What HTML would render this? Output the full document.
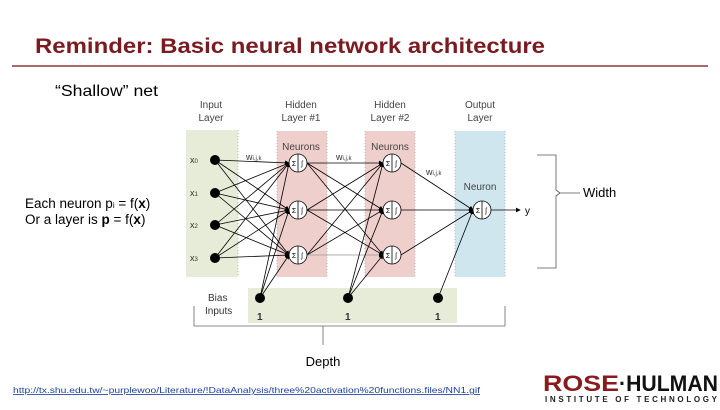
<!DOCTYPE html><html><head><style>body{margin:0;width:720px;height:405px;background:#fff;overflow:hidden}</style></head><body>
<svg width="720" height="405" xmlns="http://www.w3.org/2000/svg" font-family="Liberation Sans, Arial, sans-serif">
<defs><marker id="a" markerWidth="6" markerHeight="6" refX="5" refY="3" orient="auto"><path d="M0,0L6,3L0,6z" fill="#000"/></marker></defs>
<text x="35" y="53" font-size="21" font-weight="bold" fill="#7b1a1f" textLength="510" lengthAdjust="spacingAndGlyphs">Reminder: Basic neural network architecture</text>
<line x1="12" y1="66" x2="708" y2="66" stroke="#8b3a3a" stroke-width="1.5"/>
<text x="55" y="96" font-size="16" textLength="103" lengthAdjust="spacingAndGlyphs">“Shallow” net</text>
<g font-size="10" fill="#444" text-anchor="middle">
<text x="211" y="108">Input</text><text x="211" y="121">Layer</text>
<text x="301" y="108">Hidden</text><text x="301" y="121">Layer #1</text>
<text x="390" y="108">Hidden</text><text x="390" y="121">Layer #2</text>
<text x="480" y="108">Output</text><text x="480" y="121">Layer</text></g>
<rect x="186" y="130" width="52" height="147" fill="#e6ecd8"/>
<rect x="277" y="131" width="50" height="146" fill="#efcfcc"/>
<rect x="365" y="131" width="50" height="146" fill="#efcfcc"/>
<rect x="455" y="131" width="50" height="146" fill="#cfe6ef"/>
<rect x="248" y="288" width="209" height="35" fill="#e6ecd8"/>
<g stroke="#bbb" stroke-dasharray="1,2" fill="none"><line x1="238" y1="130" x2="238" y2="277"/><line x1="277" y1="131" x2="277" y2="277"/><line x1="327" y1="131" x2="327" y2="277"/><line x1="365" y1="131" x2="365" y2="277"/><line x1="415" y1="131" x2="415" y2="277"/><line x1="455" y1="131" x2="455" y2="277"/><line x1="505" y1="131" x2="505" y2="277"/></g>
<g font-size="10" fill="#444" text-anchor="middle"><text x="301" y="150">Neurons</text><text x="390" y="150">Neurons</text><text x="480" y="190">Neuron</text></g>
<g font-size="9" fill="#333"><text x="190" y="163">x<tspan font-size="6">0</tspan></text><text x="190" y="196">x<tspan font-size="6">1</tspan></text><text x="190" y="228">x<tspan font-size="6">2</tspan></text><text x="190" y="261">x<tspan font-size="6">3</tspan></text>
<text x="246" y="160">w<tspan font-size="6">i,j,k</tspan></text><text x="336" y="160">w<tspan font-size="6">i,j,k</tspan></text><text x="426" y="175">w<tspan font-size="6">i,j,k</tspan></text></g>
<g stroke="#000" stroke-width="0.8" marker-end="url(#a)">
<line x1="215" y1="160" x2="289" y2="163"/><line x1="215" y1="160" x2="289" y2="210"/><line x1="215" y1="160" x2="289" y2="255"/>
<line x1="215" y1="193" x2="289" y2="163"/><line x1="215" y1="193" x2="289" y2="210"/><line x1="215" y1="193" x2="289" y2="255"/>
<line x1="215" y1="225" x2="289" y2="163"/><line x1="215" y1="225" x2="289" y2="210"/><line x1="215" y1="225" x2="289" y2="255"/>
<line x1="215" y1="258" x2="289" y2="163"/><line x1="215" y1="258" x2="289" y2="210"/><line x1="215" y1="258" x2="289" y2="255"/>
<line x1="307" y1="163" x2="383" y2="163"/><line x1="307" y1="163" x2="383" y2="210"/><line x1="307" y1="163" x2="383" y2="255"/>
<line x1="307" y1="210" x2="383" y2="163"/><line x1="307" y1="210" x2="383" y2="210"/><line x1="307" y1="210" x2="383" y2="255"/>
<line x1="307" y1="255" x2="383" y2="163"/><line x1="307" y1="255" x2="383" y2="210"/><line x1="307" y1="255" x2="383" y2="255" stroke="#999"/>
<line x1="401" y1="163" x2="473" y2="210"/><line x1="401" y1="210" x2="473" y2="210"/><line x1="401" y1="255" x2="473" y2="210"/>
<line x1="260" y1="298" x2="289" y2="163"/><line x1="260" y1="298" x2="289" y2="210"/><line x1="260" y1="298" x2="289" y2="255"/>
<line x1="348" y1="298" x2="383" y2="163"/><line x1="348" y1="298" x2="383" y2="210"/><line x1="348" y1="298" x2="383" y2="255"/>
<line x1="438" y1="298" x2="473" y2="210"/>
<line x1="491" y1="210" x2="520" y2="210"/></g>
<text x="525" y="214" font-size="10">y</text>
<g fill="#000"><circle cx="215" cy="160" r="5"/><circle cx="215" cy="193" r="5"/><circle cx="215" cy="225" r="5"/><circle cx="215" cy="258" r="5"/>
<circle cx="260" cy="298" r="5"/><circle cx="348" cy="298" r="5"/><circle cx="438" cy="298" r="5"/></g>
<g fill="#fff" stroke="#000" stroke-width="0.8">
<circle cx="298" cy="163" r="9"/><circle cx="298" cy="210" r="9"/><circle cx="298" cy="255" r="9"/>
<circle cx="392" cy="163" r="9"/><circle cx="392" cy="210" r="9"/><circle cx="392" cy="255" r="9"/><circle cx="482" cy="210" r="9"/></g>
<g stroke="#000" stroke-width="0.8"><line x1="298" y1="154" x2="298" y2="172"/><line x1="298" y1="201" x2="298" y2="219"/><line x1="298" y1="246" x2="298" y2="264"/><line x1="392" y1="154" x2="392" y2="172"/><line x1="392" y1="201" x2="392" y2="219"/><line x1="392" y1="246" x2="392" y2="264"/><line x1="482" y1="201" x2="482" y2="219"/></g>
<g font-size="7" text-anchor="middle"><text x="294" y="166">Σ</text><text x="302" y="166">ʃ</text><text x="294" y="213">Σ</text><text x="302" y="213">ʃ</text><text x="294" y="258">Σ</text><text x="302" y="258">ʃ</text><text x="388" y="166">Σ</text><text x="396" y="166">ʃ</text><text x="388" y="213">Σ</text><text x="396" y="213">ʃ</text><text x="388" y="258">Σ</text><text x="396" y="258">ʃ</text><text x="478" y="213">Σ</text><text x="486" y="213">ʃ</text></g>
<g font-size="10" fill="#333"><text x="208" y="301">Bias</text><text x="205" y="314">Inputs</text><text x="257" y="320" font-weight="bold">1</text><text x="345" y="320" font-weight="bold">1</text><text x="435" y="320" font-weight="bold">1</text></g>
<path d="M537,155 H556 V190 L560,193 L556,196 V268 H537 M560,193 H580" fill="none" stroke="#555" stroke-width="0.8"/>
<text x="583" y="197" font-size="13">Width</text>
<path d="M194,306 V326 H505 V306 M323,326 V345" fill="none" stroke="#666" stroke-width="0.8"/>
<text x="323" y="366" font-size="13" text-anchor="middle">Depth</text>
<text x="25" y="208" font-size="13.5">Each neuron p<tspan font-size="8">i</tspan> = f(<tspan font-weight="bold">x</tspan>)</text>
<text x="25" y="224" font-size="13.5">Or a layer is <tspan font-weight="bold">p</tspan> = f(<tspan font-weight="bold">x</tspan>)</text>
<text x="13" y="393" font-size="8.3" fill="#1a3fa6" text-decoration="underline" textLength="467" lengthAdjust="spacingAndGlyphs">http://tx.shu.edu.tw/~purplewoo/Literature/!DataAnalysis/three%20activation%20functions.files/NN1.gif</text>
<text x="543" y="391" font-size="22" font-weight="bold" fill="#8b1a1f" textLength="76" lengthAdjust="spacingAndGlyphs">ROSE</text>
<text x="619" y="391" font-size="22" font-weight="bold" fill="#111" textLength="99" lengthAdjust="spacingAndGlyphs">·HULMAN</text>
<text x="545" y="402" font-size="8" font-weight="bold" fill="#222" textLength="172" lengthAdjust="spacing">INSTITUTE OF TECHNOLOGY</text>
</svg></body></html>
